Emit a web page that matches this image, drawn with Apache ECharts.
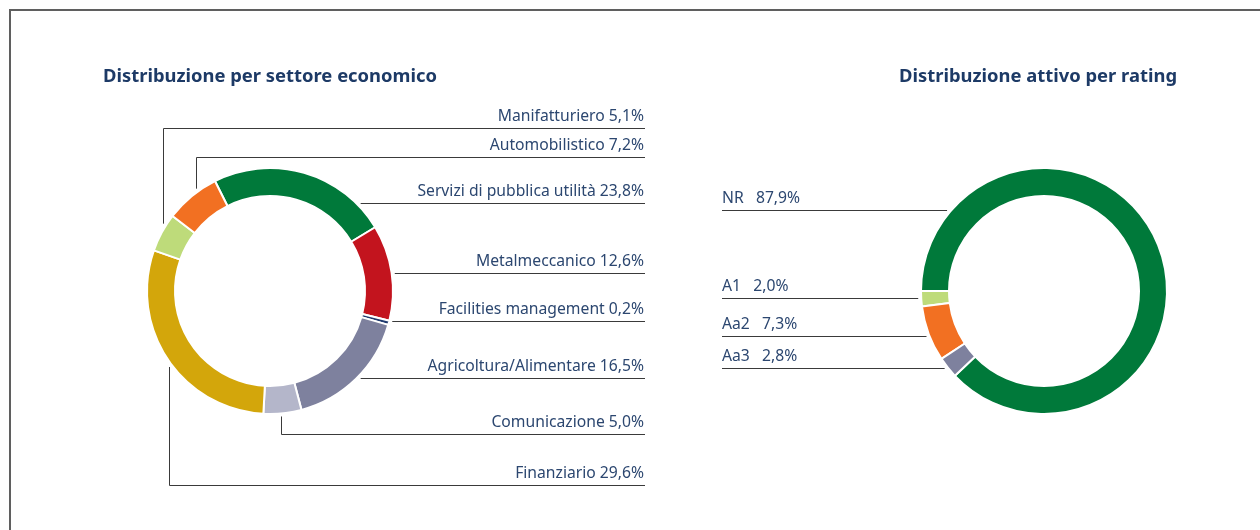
<!DOCTYPE html>
<html>
<head>
<meta charset="utf-8">
<script src="https://cdn.jsdelivr.net/npm/echarts@6/dist/echarts.min.js"></script>
<style>
  html, body { margin: 0; padding: 0; background: #fff; }
  #chart { width: 1260px; height: 530px; }
</style>
</head>
<body>
<div id="chart"></div>
<script>
// Portfolio breakdowns (percent)
const sectorNames = ['Servizi di pubblica utilità', 'Metalmeccanico', 'Facilities management',
  'Agricoltura/Alimentare', 'Comunicazione', 'Finanziario', 'Manifatturiero', 'Automobilistico'];
const sectorValues = [23.8, 12.6, 0.2, 16.5, 5.0, 29.6, 5.1, 7.2];

const ratingNames = ['NR', 'A1', 'Aa2', 'Aa3'];
const ratingValues = [87.9, 2.0, 7.3, 2.8];

const chartTitles = ['Distribuzione per settore economico', 'Distribuzione attivo per rating'];

// Styling
const sectorColors = ['#00793a', '#c3141e', '#1f3a6e', '#7e819e', '#b4b6ca', '#d3a60b', '#bedb7a', '#f27022'];
const ratingColors = ['#00793a', '#bedb7a', '#f27022', '#7e819e'];
const FONT = 'Noto Sans';
const TEXT_COLOR = '#2c4770';
const TITLE_COLOR = '#1d3a66';

// Ring geometry
const RING = [95, 123];
const sectorCenter = [270, 291];
const ratingCenter = [1044, 291];
const GUIDE_GAP = 3; // guide lines stop just short of the ring

// Guide lines: y of the horizontal rule under each label, optional x of a vertical drop
const sectorGuides = [
  { y: 203 }, { y: 273 }, { y: 321 }, { y: 378 },
  { y: 434, x: 281 }, { y: 485, x: 169 }, { y: 128, x: 163 }, { y: 157, x: 196 }
];
const sectorLabelEdge = 644;
const ratingGuides = [{ y: 210 }, { y: 298 }, { y: 336 }, { y: 368 }];
const ratingLabelEdge = 722;

function pct(v) { return v.toFixed(1).replace('.', ',') + '%'; }

function guidePoints(guide, center, side, edgeX) {
  const r = RING[1] + GUIDE_GAP;
  const y = guide.y + 0.5;
  if (guide.x !== undefined) {
    const x = guide.x + 0.5;
    const dx = x - center[0];
    const h = Math.sqrt(Math.max(r * r - dx * dx, 0));
    const ty = guide.y < center[1] ? center[1] - h : center[1] + h;
    return [[x, ty], [x, y], [edgeX, y]];
  }
  const dy = y - center[1];
  const w = Math.sqrt(Math.max(r * r - dy * dy, 0));
  const tx = center[0] + side * w;
  return [[tx, y], [tx, y], [edgeX, y]];
}

const chart = echarts.init(document.getElementById('chart'), null, { renderer: 'canvas' });

const baseLabel = {
  show: true,
  position: 'outside',
  color: TEXT_COLOR,
  fontFamily: FONT,
  fontSize: 15.7,
  lineHeight: 18
};

const titleStyle = { fontFamily: FONT, fontWeight: 'bold', fontSize: 18.4, color: TITLE_COLOR };

chart.setOption({
  animation: false,
  backgroundColor: '#fff',
  title: [
    { text: chartTitles[0], left: 98, top: 63, textStyle: titleStyle },
    { text: chartTitles[1], left: 894, top: 63, textStyle: titleStyle }
  ],
  graphic: [
    { type: 'polyline', silent: true,
      shape: { points: [[10, 531], [10, 10], [1261, 10]] },
      style: { stroke: '#5f5f5f', lineWidth: 2, fill: null } }
  ],
  series: [
    {
      type: 'pie',
      center: sectorCenter,
      radius: RING,
      startAngle: 116.6,
      clockwise: true,
      minAngle: 2,
      avoidLabelOverlap: false,
      emphasis: { disabled: true },
      itemStyle: { borderColor: '#fff', borderWidth: 2 },
      label: Object.assign({}, baseLabel, {
        formatter: p => p.name + ' ' + pct(p.value)
      }),
      labelLine: { show: true, lineStyle: { color: '#3a3a3a', width: 1 } },
      labelLayout: p => {
        const g = sectorGuides[p.dataIndex];
        return {
          x: sectorLabelEdge, y: g.y - 2,
          align: 'right', verticalAlign: 'bottom',
          labelLinePoints: guidePoints(g, sectorCenter, 1, sectorLabelEdge + 1)
        };
      },
      data: sectorNames.map((n, i) => ({ name: n, value: sectorValues[i], itemStyle: { color: sectorColors[i] } }))
    },
    {
      type: 'pie',
      center: ratingCenter,
      radius: RING,
      startAngle: 223.6,
      clockwise: false,
      avoidLabelOverlap: false,
      emphasis: { disabled: true },
      itemStyle: { borderColor: '#fff', borderWidth: 2 },
      label: Object.assign({}, baseLabel, {
        formatter: p => p.name + '   ' + pct(p.value)
      }),
      labelLine: { show: true, lineStyle: { color: '#3a3a3a', width: 1 } },
      labelLayout: p => {
        const g = ratingGuides[p.dataIndex];
        return {
          x: ratingLabelEdge, y: g.y - 2,
          align: 'left', verticalAlign: 'bottom',
          labelLinePoints: guidePoints(g, ratingCenter, -1, ratingLabelEdge)
        };
      },
      data: ratingNames.map((n, i) => ({ name: n, value: ratingValues[i], itemStyle: { color: ratingColors[i] } }))
    }
  ]
});
</script>
</body>
</html>
